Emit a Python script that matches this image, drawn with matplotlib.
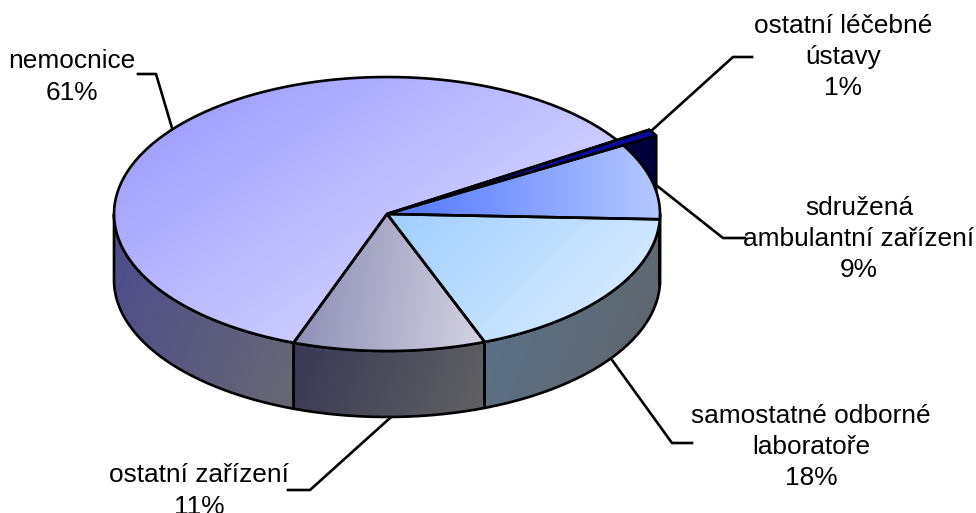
#!/usr/bin/python

import numpy as np
import matplotlib
matplotlib.use('Agg')
import matplotlib.pyplot as plt
from matplotlib.path import Path
from matplotlib.patches import PathPatch
from matplotlib.colors import to_rgb

plt.rcParams['font.family'] = ['Liberation Sans', 'DejaVu Sans']

# slices counter-clockwise from the front edge
names = ['ostatní zařízení', 'samostatné odborné\nlaboratoře', 'sdružená\nambulantní zařízení',
	'ostatní léčebné\nústavy', 'nemocnice']
shares = [11.4, 18.6, 9.0, 0.7, 60.5]
labels = ['11%', '18%', '9%', '1%', '61%']

top_cols = [('#8a8ab4', '#d4d4e2'), ('#a0ceff', '#e0f0ff'), ('#5074ff', '#b4c8ff'),
	('#0a0a9c', '#0a0a9c'), ('#9696ff', '#e8e8ff')]
top_dirs = [(1, 0.15), (1, 1), (1, 0), (1, 0), (1, 1.5)]
side_cols = [('#383854', '#626264'), ('#5a7490', '#606468'), ('#606468', '#606468'),
	('#00003c', '#00003c'), ('#4c4c8c', '#686874')]

cx, cy = 387, 214
rx, ry = 273, 137
depth = 66
start = 250.0
long_r = 1.14

fig = plt.figure(figsize=(9.76, 5.13), dpi=100)
ax = fig.add_axes([0, 0, 1, 1])
ax.set_xlim(0, 976)
ax.set_ylim(513, 0)
ax.axis('off')

def pt(t, r=1.0, dy=0):
	a = np.radians(t)
	return cx + rx * r * np.cos(a), cy - ry * r * np.sin(a) + dy

def arc(t1, t2, r=1.0, dy=0):
	return [pt(t, r, dy) for t in np.linspace(t1, t2, 100)]

def fill(verts, c1, c2, d, z):
	verts = np.array(verts)
	x0, y0 = verts.min(axis=0)
	x1, y1 = verts.max(axis=0)
	xx, yy = np.meshgrid(np.linspace(0, 1, 128), np.linspace(0, 1, 128))
	g = (xx * d[0] * (x1 - x0) + yy * d[1] * (y1 - y0))
	g = (g - g.min()) / (g.max() - g.min())
	img = np.array(to_rgb(c1)) + g[..., None] * (np.array(to_rgb(c2)) - np.array(to_rgb(c1)))
	im = ax.imshow(img, extent=(x0, x1, y1, y0), aspect='auto', zorder=z, interpolation='bilinear')
	p = PathPatch(Path(np.vstack([verts, verts[0]])), fc='none', ec='k', lw=1.9, joinstyle='round', zorder=z + 0.1)
	ax.add_patch(p)
	im.set_clip_path(p)

ax.set_xlim(0, 976)
spans = 360.0 * np.array(shares) / sum(shares)
ends = start + np.cumsum(spans)
begins = ends - spans

# the 1% slice is longer than the rest, its dark side sits behind the others
t1, t2 = begins[3], ends[3]
xa, ya = pt(t2, long_r)
xb, yb = pt(t1, long_r)
fill([(cx, cy), (xa, ya), (xb, yb), (xb, yb + depth), (cx, cy + depth)],
	side_cols[3][0], side_cols[3][1], top_dirs[3], 1)

# side walls, only the front half shows
for i in [4, 0, 1, 2]:
	lo = begins[i] % 360
	hi = lo + spans[i]
	parts = [(max(lo, 180), min(hi, 360)), (max(lo - 360, 180), min(hi - 360, 360))]
	for a, b in parts:
		if b > a:
			fill(arc(a, b) + arc(b, a, dy=depth), side_cols[i][0], side_cols[i][1], (1, 0.4), 2)

for i in [4, 2, 1, 0]:
	fill([(cx, cy)] + arc(begins[i], ends[i]), top_cols[i][0], top_cols[i][1], top_dirs[i], 3)

fill([(cx, cy), (xa, ya), (xb, yb)], top_cols[3][0], top_cols[3][1], top_dirs[3], 4)

# leader lines
leaders = [
	[(390, 418), (310, 490), (288, 490)],
	[(612, 360), (672, 443), (692, 443)],
	[(656, 185), (723, 238), (745, 238)],
	[(650, 132), (733, 57), (752, 57)],
	[(172, 128), (156, 74), (138, 74)],
]
for l in leaders:
	ax.plot([p[0] for p in l], [p[1] for p in l], color='k', lw=1.9, zorder=1.5)

spots = [(199, 491), (811, 447), (859, 239), (843, 57), (72, 77)]
for n, v, s in zip(names, labels, spots):
	ax.text(s[0], s[1], n + '\n' + v, ha='center', va='center', fontsize=18.9, linespacing=1.39, zorder=6)

fig.savefig('out.png', dpi=100)
